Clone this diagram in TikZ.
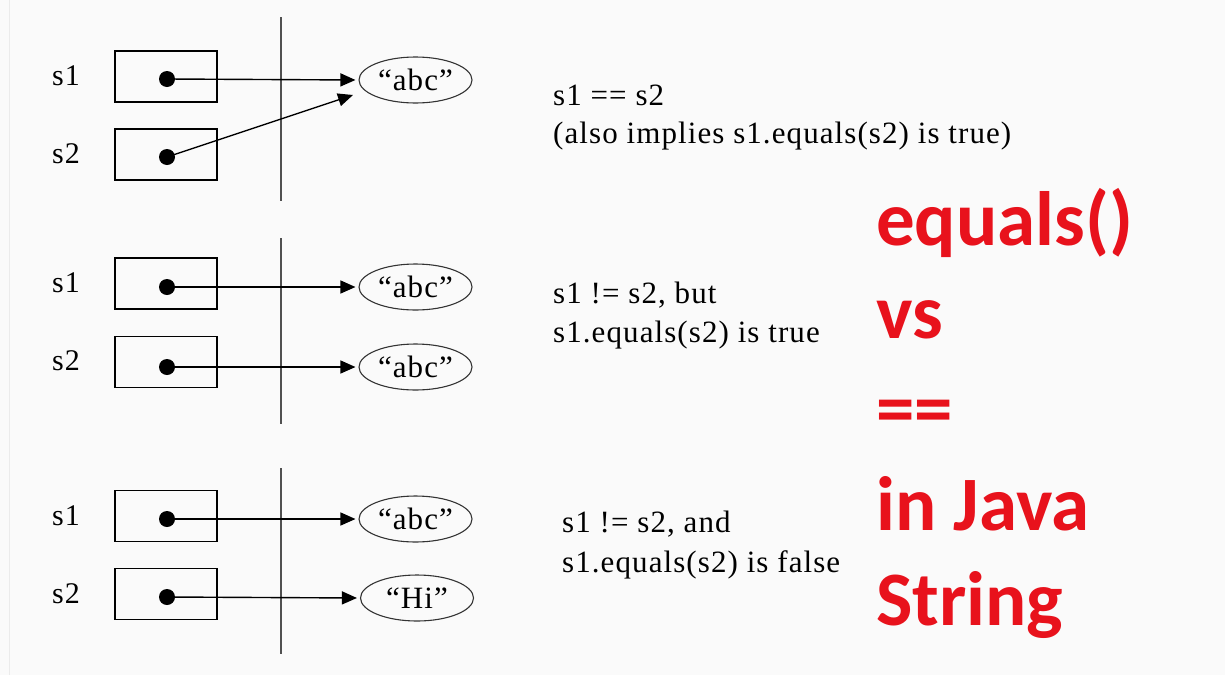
\documentclass[tikz,border=0pt]{standalone}
\usepackage{fontspec}
\setmainfont{Liberation Serif}
\newfontfamily\notefont{Liberation Serif}[LetterSpace=3.5]
\newfontfamily\titlefont{Carlito}
\usetikzlibrary{arrows.meta,shapes.geometric}
\definecolor{bg}{RGB}{250,250,250}
\definecolor{titlered}{RGB}{232,18,28}
\definecolor{divider}{RGB}{80,80,80}
\tikzset{
  varbox/.style={draw=black,line width=1.4pt,minimum width=102pt,minimum height=51pt,inner sep=0pt},
  refdot/.style={circle,fill=black,minimum size=16pt,inner sep=0pt},
  strobj/.style={ellipse,draw=black!80,line width=1.1pt,minimum width=113pt,minimum height=46pt,inner sep=0pt,font=\notefont\fontsize{31}{36}\selectfont},
  varlabel/.style={font=\notefont\fontsize{30}{36}\selectfont,inner sep=0pt},
  ptr/.style={-{Triangle[length=15pt,width=13pt]},line width=1.4pt,shorten >=3pt},
  divline/.style={draw=divider,line width=2pt},
  note/.style={font=\notefont\fontsize{31}{39}\selectfont,anchor=base west,inner sep=0pt},
  title/.style={font=\titlefont\bfseries\fontsize{77}{90}\selectfont,text=titlered,anchor=base west,inner sep=0pt}
}
\begin{document}
\begin{tikzpicture}[x=1pt,y=-1pt]
\fill[bg] (0,0) rectangle (1225,675);
\useasboundingbox (0,0) rectangle (1225,675);
\draw[black!8,line width=1pt] (9.5,0) -- (9.5,675);

% ---------- panel 1 ----------
\coordinate (v1a) at (281,17);
\coordinate (v1b) at (281,201);
\draw[divline] (v1a) -- (v1b);
\node[varlabel] (l11) at (66,76) {s1};
\node[varlabel] (l12) at (66,154) {s2};
\node[varbox] (b11) at (166,76.5) {};
\node[varbox] (b12) at (166,154.5) {};
\node[refdot] (d11) at (167,79) {};
\node[refdot] (d12) at (167,157) {};
\node[strobj] (e11) at (415.5,80) {“abc”};
\coordinate (t12) at (353,95);
\draw[ptr] (d11.center) -- (e11.west);
\draw[ptr,shorten >=0pt] (d12.center) -- (t12);
\node[note] (n1a) at (553,105) {s1 == s2};
\node[note] (n1b) at (553,143) {(also implies s1.equals(s2) is true)};

% ---------- panel 2 ----------
\coordinate (v2a) at (281,238);
\coordinate (v2b) at (281,424);
\draw[divline] (v2a) -- (v2b);
\node[varlabel] (l21) at (66,283) {s1};
\node[varlabel] (l22) at (66,361) {s2};
\node[varbox] (b21) at (166,283.5) {};
\node[varbox] (b22) at (166,362) {};
\node[refdot] (d21) at (167,287) {};
\node[refdot] (d22) at (167,367) {};
\node[strobj] (e21) at (415.5,287) {“abc”};
\node[strobj] (e22) at (415.5,367) {“abc”};
\draw[ptr] (d21.center) -- (e21.west);
\draw[ptr] (d22.center) -- (e22.west);
\node[note] (n2a) at (553,303) {s1 != s2, but};
\node[note] (n2b) at (553,342) {s1.equals(s2) is true};

% ---------- panel 3 ----------
\coordinate (v3a) at (281,468);
\coordinate (v3b) at (281,654);
\draw[divline] (v3a) -- (v3b);
\node[varlabel] (l31) at (66,516) {s1};
\node[varlabel] (l32) at (66,594) {s2};
\node[varbox] (b31) at (166,516) {};
\node[varbox] (b32) at (166,594) {};
\node[refdot] (d31) at (167,519) {};
\node[refdot] (d32) at (167,597) {};
\node[strobj] (e31) at (415.5,519) {“abc”};
\node[strobj] (e32) at (417,598) {“Hi”};
\draw[ptr] (d31.center) -- (e31.west);
\draw[ptr] (d32.center) -- (e32.west);
\node[note] (n3a) at (562,532) {s1 != s2, and};
\node[note] (n3b) at (562,572) {s1.equals(s2) is false};

% ---------- title ----------
\node[title] (t1) at (876,245) {equals()};
\node[title] (t2) at (876,338) {vs};
\node[title] (t3) at (876,434) {==};
\node[title] (t4) at (876,530) {in Java};
\node[title] (t5) at (876,625) {String};
\end{tikzpicture}
\end{document}
